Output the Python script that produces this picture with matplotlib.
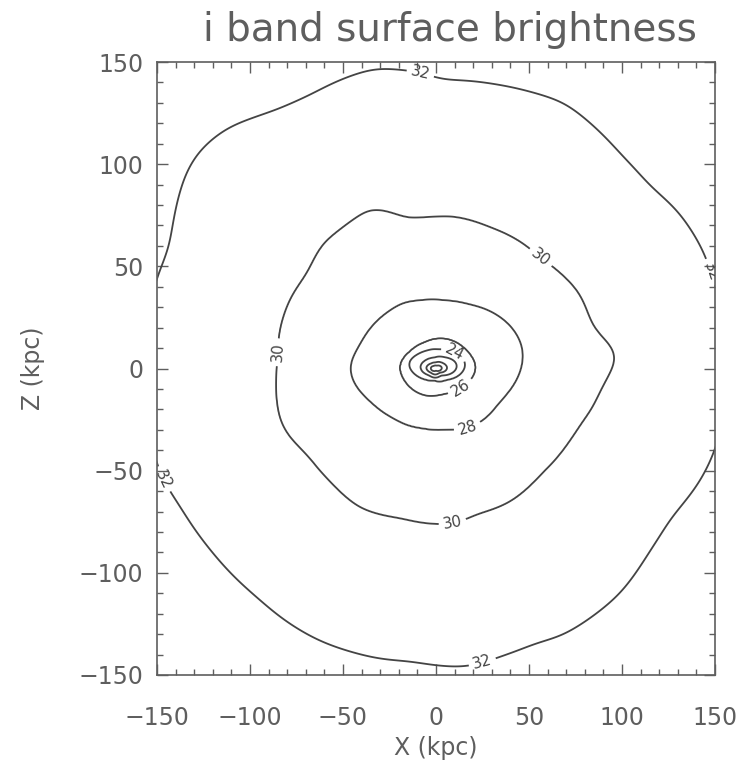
import numpy as np
import matplotlib
matplotlib.use("Agg")
import matplotlib.pyplot as plt
from matplotlib.ticker import MultipleLocator

# i-band surface brightness isophotes (mag/arcsec^2), traced as (x, z) in kpc
levels = [18, 20, 22, 24, 26, 28, 30, 32]
center_value = 16.5

iso18_x = [-3.5, -1.5, 0.5, 3.0, 4.0, 2.5, 0.0, -2.5]
iso18_z = [0.3, 1.0, 1.2, 0.8, 0.2, -0.6, -0.8, -0.6]

iso20_x = [-6.0, -3.0, 0.0, 4.0, 7.0, 5.0, 2.0, -3.0, -5.0]
iso20_z = [0.5, 2.0, 2.8, 2.2, 0.2, -1.2, -1.6, -1.5, -0.8]

iso22_x = [-9.0, -6.0, -1.0, 5.0, 11.0, 13.0, 9.0, 3.0, -4.0, -8.0]
iso22_z = [1.5, 3.5, 5.0, 5.0, 3.0, 0.8, -1.8, -2.8, -2.8, -1.0]

iso24_x = [-16.0, -11.0, -5.0, 2.0, 8.0, 13.0, 17.0, 14.0, 6.0, -1.0, -6.0, -12.0]
iso24_z = [2.5, 6.0, 8.5, 9.0, 8.5, 6.0, 2.5, -2.0, -5.0, -5.5, -5.0, -2.0]

iso26_x = [-20.0, -14.0, -6.0, 2.0, 10.0, 17.0, 22.0, 20.0, 13.0, 5.0, 0.0, -9.0, -16.0, -19.0]
iso26_z = [1.5, 8.0, 12.5, 14.5, 13.0, 8.0, 1.0, -4.0, -9.0, -12.0, -13.0, -12.0, -7.0, -2.0]

iso28_x = [-47.0, -42.0, -35.0, -25.0, -18.0, -9.0, 5.0, 18.0, 29.0, 41.0, 47.0, 46.0,
           41.0, 34.0, 27.0, 17.0, 6.0, -7.0, -23.0, -35.0, -45.0]
iso28_z = [2.0, 9.0, 20.0, 28.0, 32.0, 33.0, 33.0, 31.0, 28.0, 20.0, 10.0, 0.0,
           -9.0, -16.0, -24.0, -29.0, -29.5, -29.0, -24.0, -16.0, -6.0]

iso30_x = [-86.0, -85.0, -84.0, -78.5, -69.0, -61.0, -52.0, -42.5, -35.5, -28.5, -15.6,
           -1.6, 7.5, 29.0, 47.0, 56.0, 67.0, 77.0, 84.0, 91.0, 97.0, 98.0, 92.0, 88.0,
           83.0, 79.0, 72.0, 57.0, 40.0, 22.0, 9.0, 0.5, -19.0, -41.0, -57.0, -69.0,
           -80.0, -84.0, -86.0]
iso30_z = [-10.0, 4.0, 19.0, 34.0, 46.5, 61.0, 67.6, 74.0, 78.4, 77.5, 73.0,
           74.0, 74.5, 69.0, 61.0, 54.0, 46.5, 37.0, 20.0, 13.0, 10.0, 5.0, -4.0, -11.0,
           -21.0, -25.0, -35.0, -51.0, -65.0, -71.0, -76.0, -76.0, -73.0, -68.0, -55.0, -42.0,
           -32.0, -25.0, -10.0]

iso32_x = [-150.0, -143.0, -139.0, -134.0, -127.0, -112.0, -100.0, -85.0, -69.0, -52.0,
           -32.0, -19.0, -8.0, 2.0, 32.0, 52.0, 69.0, 83.0, 100.0, 115.0, 130.0, 137.0,
           144.0, 147.0, 150.0, 155.0, 157.0, 155.0, 150.0, 142.0, 126.0, 115.0, 99.0,
           67.0, 54.0, 34.0, 25.0, 16.0, -14.0, -30.0, -44.0, -63.0, -80.0, -96.0,
           -121.0, -139.0, -146.0, -150.0, -155.0, -157.0, -155.0]
iso32_z = [44.5, 59.0, 82.0, 97.0, 107.0, 118.0, 122.0, 126.5, 133.0, 141.0,
           147.0, 146.0, 145.0, 141.0, 139.0, 135.0, 130.0, 120.0, 104.0, 89.0, 77.0, 68.0,
           57.0, 49.0, 41.0, 20.0, 0.0, -20.0, -40.0, -55.0, -73.0, -89.0, -110.0,
           -131.0, -134.0, -141.0, -144.0, -146.0, -143.0, -142.0, -139.0, -133.0, -124.0, -112.0,
           -89.0, -65.0, -56.0, -47.0, -25.0, 0.0, 25.0]

isophotes = [
    (iso18_x, iso18_z), (iso20_x, iso20_z), (iso22_x, iso22_z), (iso24_x, iso24_z),
    (iso26_x, iso26_z), (iso28_x, iso28_z), (iso30_x, iso30_z), (iso32_x, iso32_z),
]

# Levels that carry a numeric label, and where those labels sit (x, z in kpc)
label_levels = [24, 26, 28, 30, 32]
label_positions = [(-8, 146), (147, 47), (25, -144), (-146, -54),
                   (56, 54), (9, -76), (-86, 8),
                   (17, -29), (13, -9), (10, 8)]

N_ANGLES = 1440
angles = np.linspace(-np.pi, np.pi, N_ANGLES, endpoint=False)


def radius_profile(xs, zs):
    """Isophote radius on a uniform grid of position angles, lightly smoothed."""
    xs = np.asarray(xs, float)
    zs = np.asarray(zs, float)
    t = np.arctan2(zs, xs)
    r = np.hypot(xs, zs)
    order = np.argsort(t)
    prof = np.interp(angles, t[order], r[order], period=2 * np.pi)
    # circular Gaussian smoothing, width tied to the spacing of the traced points
    sigma = 0.35 * (2 * np.pi / len(xs))
    k = np.fft.fftfreq(N_ANGLES, d=2 * np.pi / N_ANGLES) * 2 * np.pi
    return np.real(np.fft.ifft(np.fft.fft(prof) * np.exp(-0.5 * (k * sigma) ** 2)))


# Brightness map rebuilt from the isophotes by radial interpolation
grid = np.linspace(-165, 165, 661)
X, Z = np.meshgrid(grid, grid)
theta = np.arctan2(Z, X)
R = np.hypot(X, Z)

profiles = [radius_profile(xs, zs) for xs, zs in isophotes]
radii = np.stack([np.zeros_like(R)] +
                 [np.interp(theta, angles, p, period=2 * np.pi) for p in profiles])
values = np.array([center_value] + levels, float)
n = len(values)
idx = np.clip((R[None] > radii).sum(axis=0), 1, n - 1)
r_lo = np.take_along_axis(radii, (idx - 1)[None], axis=0)[0]
r_hi = np.take_along_axis(radii, idx[None], axis=0)[0]
mu = values[idx - 1] + (R - r_lo) / (r_hi - r_lo) * (values[idx] - values[idx - 1])

text_color = "#5e5e5e"
line_color = "#444444"
plt.rcParams["font.family"] = ["DejaVu Sans"]

fig = plt.figure(figsize=(7.45, 7.66), dpi=100)
ax = fig.add_axes([157 / 745, 1 - 675 / 766, (715 - 157) / 745, (675 - 62) / 766])

plain_levels = [lv for lv in levels if lv not in label_levels]
ax.contour(X, Z, mu, levels=plain_levels, colors=line_color, linewidths=1.3)
cs = ax.contour(X, Z, mu, levels=label_levels, colors=line_color, linewidths=1.3)
ax.clabel(cs, manual=label_positions, inline=True,
          fmt="%d", fontsize=11, colors=line_color, inline_spacing=3)

ax.set_xlim(-150, 150)
ax.set_ylim(-150, 150)
ax.xaxis.set_major_locator(MultipleLocator(50))
ax.yaxis.set_major_locator(MultipleLocator(50))
ax.xaxis.set_minor_locator(MultipleLocator(10))
ax.yaxis.set_minor_locator(MultipleLocator(10))
ax.tick_params(which="both", direction="in", top=True, right=True, colors=text_color,
               width=1.0)
ax.tick_params(which="major", length=8, labelsize=17)
ax.tick_params(axis="x", which="major", pad=22)
ax.tick_params(axis="y", which="major", pad=10)
ax.tick_params(which="minor", length=4)
for spine in ax.spines.values():
    spine.set_color(text_color)
    spine.set_linewidth(1.2)

fig.text(450 / 745, 1 - 30 / 766, "i band surface brightness", ha="center", va="center",
         fontsize=28, color=text_color)
fig.text(436 / 745, 1 - 748 / 766, "X (kpc)", ha="center", va="center",
         fontsize=17, color=text_color)
fig.text(33 / 745, 1 - 368 / 766, "Z (kpc)", ha="center", va="center", rotation=90,
         fontsize=17, color=text_color)

fig.savefig("out.png", dpi=100)
